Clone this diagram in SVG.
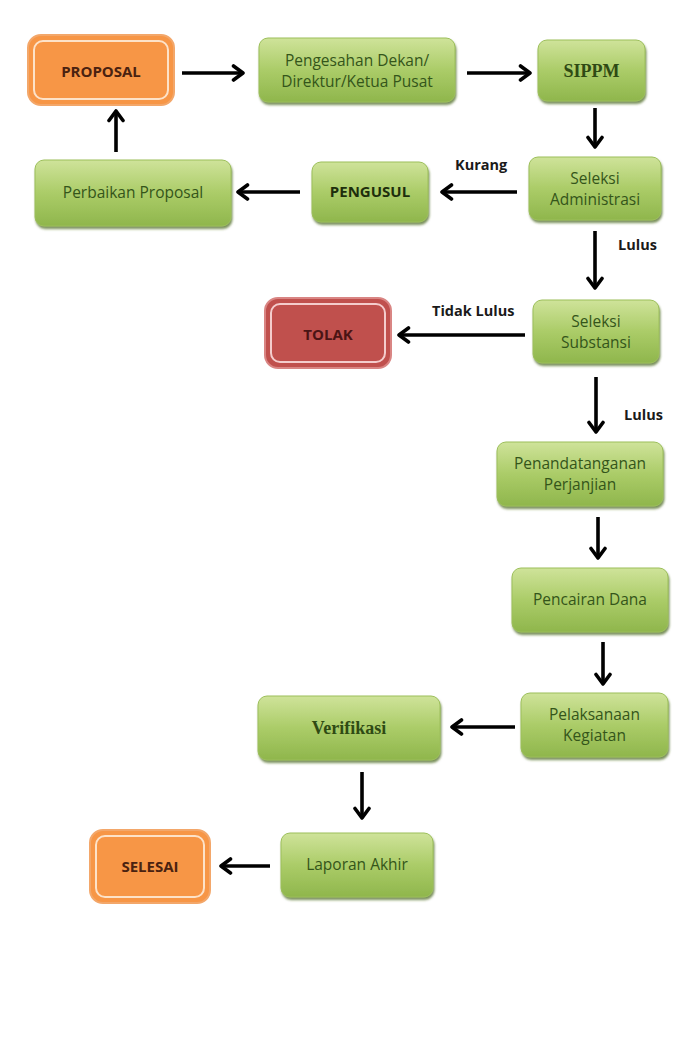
<svg xmlns="http://www.w3.org/2000/svg" width="680" height="1046" viewBox="0 0 680 1046">
<defs>
<linearGradient id="gg" x1="0" y1="0" x2="0" y2="1">
<stop offset="0" stop-color="#cfe39a"/>
<stop offset="0.5" stop-color="#abcc68"/>
<stop offset="1" stop-color="#8fb64c"/>
</linearGradient>
<filter id="sh" x="-10%" y="-10%" width="120%" height="130%">
<feDropShadow dx="1" dy="2.5" stdDeviation="1.2" flood-color="#4d6b22" flood-opacity="0.75"/>
</filter>
<marker id="ah" viewBox="0 0 14 18" refX="12" refY="9" markerWidth="14" markerHeight="18" markerUnits="userSpaceOnUse" orient="auto">
<polyline points="2.5,2 12,9 2.5,16" fill="none" stroke="#000" stroke-width="3.6" stroke-linecap="round" stroke-linejoin="round"/>
</marker>
</defs>
<style>
.g{fill:url(#gg);stroke:#9cbf5a;stroke-width:1;filter:url(#sh)}
.t{font-family:"Open Sans","Liberation Sans",sans-serif;font-size:15.5px;fill:#34551a;text-anchor:middle}
.ts{font-family:"Liberation Serif","DejaVu Serif",serif;font-size:18px;font-weight:bold;fill:#2f4a14;text-anchor:middle}
.o{fill:#f79646;stroke:#f3a76a;stroke-width:2}
.oi{fill:none;stroke:#fde2c8;stroke-width:2}
.r{fill:#c0504d;stroke:#d98583;stroke-width:2}
.ri{fill:none;stroke:#f4cccc;stroke-width:2}
.tb{font-family:"Open Sans","Liberation Sans",sans-serif;font-size:15px;font-weight:bold;text-anchor:middle}
.c line{stroke:#000;stroke-width:3.6;marker-end:url(#ah)}
.lb{font-family:"Open Sans","Liberation Sans",sans-serif;font-size:14.5px;font-weight:bold;fill:#1a1a1a}
</style>
<rect width="680" height="1046" fill="#fff"/>

<g id="proposal">
<rect class="o" x="28" y="35" width="146" height="70" rx="13"/>
<rect class="oi" x="34" y="41" width="134" height="58" rx="9"/>
<text class="tb" x="101" y="77" fill="#4a2210">PROPOSAL</text>
</g>
<g id="pengesahan">
<rect class="g" x="259" y="38" width="196" height="64" rx="9"/>
<text class="t" x="357" y="66">Pengesahan Dekan/</text>
<text class="t" x="357" y="87">Direktur/Ketua Pusat</text>
</g>
<g id="sippm">
<rect class="g" x="538" y="40" width="107" height="61" rx="9"/>
<text class="ts" x="591.5" y="77">SIPPM</text>
</g>
<g id="seleksi-admin">
<rect class="g" x="529" y="157" width="132" height="63" rx="9"/>
<text class="t" x="595" y="184">Seleksi</text>
<text class="t" x="595" y="205">Administrasi</text>
</g>
<g id="pengusul">
<rect class="g" x="312" y="162" width="116" height="60" rx="9"/>
<text class="tb" x="370" y="197" fill="#1e2e0c">PENGUSUL</text>
</g>
<g id="perbaikan">
<rect class="g" x="35" y="160" width="196" height="66" rx="9"/>
<text class="t" x="133" y="198">Perbaikan Proposal</text>
</g>
<g id="seleksi-substansi">
<rect class="g" x="533" y="300" width="126" height="63" rx="9"/>
<text class="t" x="596" y="327">Seleksi</text>
<text class="t" x="596" y="348">Substansi</text>
</g>
<g id="tolak">
<rect class="r" x="265" y="298" width="126" height="70" rx="13"/>
<rect class="ri" x="271" y="304" width="114" height="58" rx="9"/>
<text class="tb" x="328" y="340" fill="#4a1414">TOLAK</text>
</g>
<g id="penandatanganan">
<rect class="g" x="497" y="442" width="166" height="64" rx="9"/>
<text class="t" x="580" y="469">Penandatanganan</text>
<text class="t" x="580" y="490">Perjanjian</text>
</g>
<g id="pencairan">
<rect class="g" x="512" y="568" width="156" height="64" rx="9"/>
<text class="t" x="590" y="605">Pencairan Dana</text>
</g>
<g id="pelaksanaan">
<rect class="g" x="521" y="693" width="147" height="64" rx="9"/>
<text class="t" x="594.5" y="720">Pelaksanaan</text>
<text class="t" x="594.5" y="741">Kegiatan</text>
</g>
<g id="verifikasi">
<rect class="g" x="258" y="696" width="182" height="64" rx="9"/>
<text class="ts" x="349" y="734">Verifikasi</text>
</g>
<g id="laporan">
<rect class="g" x="281" y="833" width="152" height="64" rx="9"/>
<text class="t" x="357" y="870">Laporan Akhir</text>
</g>
<g id="selesai">
<rect class="o" x="90" y="830" width="120" height="73" rx="13"/>
<rect class="oi" x="96" y="836" width="108" height="61" rx="9"/>
<text class="tb" x="150" y="872" fill="#4a2210">SELESAI</text>
</g>

<g id="connectors" class="c">
<line x1="182" y1="73" x2="243" y2="73"/>
<line x1="467" y1="73" x2="530" y2="73"/>
<line x1="595" y1="108" x2="595" y2="147"/>
<line x1="517" y1="192" x2="442" y2="192"/>
<line x1="300" y1="192" x2="238" y2="192"/>
<line x1="116" y1="152" x2="116" y2="111"/>
<line x1="595" y1="231" x2="595" y2="288"/>
<line x1="525" y1="335" x2="399" y2="335"/>
<line x1="596" y1="377" x2="596" y2="432"/>
<line x1="598" y1="517" x2="598" y2="558"/>
<line x1="603" y1="642" x2="603" y2="684"/>
<line x1="515" y1="727" x2="452" y2="727"/>
<line x1="362" y1="772" x2="362" y2="818"/>
<line x1="270" y1="866" x2="221" y2="866"/>
</g>
<g id="labels">
<text class="lb" x="455" y="170">Kurang</text>
<text class="lb" x="618" y="250">Lulus</text>
<text class="lb" x="432" y="316">Tidak Lulus</text>
<text class="lb" x="624" y="420">Lulus</text>
</g>
</svg>
